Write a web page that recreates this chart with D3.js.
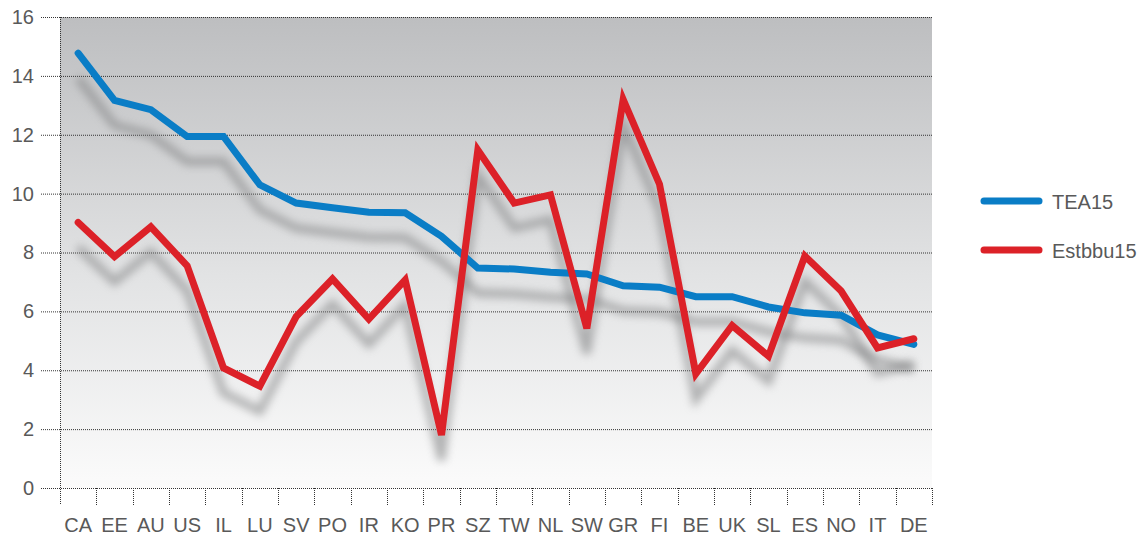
<!DOCTYPE html>
<html>
<head>
<meta charset="utf-8">
<script src="https://cdn.jsdelivr.net/npm/d3@7"></script>
<style>
	body { margin: 0; background: #fff; }
	svg { display: block; font-family: "Liberation Sans", Arial, sans-serif; }
</style>
</head>
<body>
<div id="chart"></div>
<script>
var countries = ["CA", "EE", "AU", "US", "IL", "LU", "SV", "PO", "IR", "KO", "PR", "SZ", "TW", "NL", "SW", "GR", "FI", "BE", "UK", "SL", "ES", "NO", "IT", "DE"]
var tea15 = [14.77, 13.17, 12.85, 11.94, 11.94, 10.3, 9.68, 9.52, 9.37, 9.35, 8.55, 7.47, 7.44, 7.33, 7.27, 6.87, 6.82, 6.5, 6.5, 6.15, 5.95, 5.87, 5.2, 4.88]
var estbbu15 = [9.02, 7.86, 8.87, 7.55, 4.08, 3.46, 5.82, 7.1, 5.74, 7.07, 1.8, 11.48, 9.68, 9.96, 5.42, 13.2, 10.32, 3.88, 5.52, 4.48, 7.88, 6.69, 4.76, 5.07]
var yTicks = [0, 2, 4, 6, 8, 10, 12, 14, 16]
var seriesNames = ["TEA15", "Estbbu15"]
var seriesColors = ["#0a7dc6", "#dc2128"]

function draw() {
	var width = 1143
	var height = 535
	var pLeft = 60, pRight = 932, pTop = 17, pBottom = 488
	var textColor = "#595959"

	var svg = d3.select("#chart").append("svg")
		.attr("width", width)
		.attr("height", height)

	var defs = svg.append("defs")
	var grad = defs.append("linearGradient")
		.attr("id", "bg")
		.attr("x1", 0).attr("y1", 0).attr("x2", 0).attr("y2", 1)
	grad.append("stop").attr("offset", "0%").attr("stop-color", "#bdbec0")
	grad.append("stop").attr("offset", "55%").attr("stop-color", "#e2e3e4")
	grad.append("stop").attr("offset", "100%").attr("stop-color", "#fbfbfb")

	defs.append("filter")
		.attr("id", "blur")
		.attr("x", "-20%").attr("y", "-20%").attr("width", "140%").attr("height", "140%")
		.append("feGaussianBlur")
		.attr("stdDeviation", 4)

	var x = d3.scaleBand().domain(countries).range([pLeft, pRight]).padding(0)
	var y = d3.scaleLinear().domain([0, 16]).range([pBottom, pTop])

	// plot background
	svg.append("rect")
		.attr("x", pLeft)
		.attr("y", pTop)
		.attr("width", pRight - pLeft)
		.attr("height", pBottom - pTop)
		.style("fill", "url(#bg)")

	// y axis + gridlines
	var yAxis = svg.append("g")
		.attr("transform", "translate(" + pRight + ",0)")
		.call(d3.axisLeft(y).tickValues(yTicks).tickSize(pRight - 40).tickPadding(6).tickFormat(d3.format("d")))
	yAxis.select(".domain").remove()
	yAxis.selectAll("line")
		.style("stroke", "#333")
		.style("stroke-width", 1)
		.style("stroke-dasharray", "1,1")
	yAxis.selectAll("text")
		.style("font-size", "20px")
		.style("fill", textColor)
		.style("font-family", "'Liberation Sans', Arial, sans-serif")

	// left vertical dotted line
	svg.append("line")
		.attr("x1", pLeft + 0.5).attr("x2", pLeft + 0.5)
		.attr("y1", pTop).attr("y2", pBottom + 17)
		.style("stroke", "#333")
		.style("stroke-dasharray", "1,1")

	// x boundary ticks
	var bounds = countries.map(function (c) { return x(c) }).concat([pRight])
	svg.selectAll(".xtick")
		.data(bounds.slice(1))
		.enter().append("line")
		.attr("class", "xtick")
		.attr("x1", function (d) { return Math.round(d) + 0.5 })
		.attr("x2", function (d) { return Math.round(d) + 0.5 })
		.attr("y1", pBottom)
		.attr("y2", pBottom + 17)
		.style("stroke", "#333")
		.style("stroke-dasharray", "1,1")

	// x labels
	svg.selectAll(".xlab")
		.data(countries)
		.enter().append("text")
		.attr("class", "xlab")
		.attr("x", function (d) { return x(d) + x.bandwidth() / 2 })
		.attr("y", 532)
		.attr("text-anchor", "middle")
		.style("font-size", "20px")
		.style("fill", textColor)
		.text(function (d) { return d })

	var line = d3.line()
		.x(function (d, i) { return x(countries[i]) + x.bandwidth() / 2 })
		.y(function (d) { return y(d) })

	var allSeries = [tea15, estbbu15]

	// shadows
	svg.append("g")
		.attr("transform", "translate(0,25)")
		.selectAll("path")
		.data(allSeries)
		.enter().append("path")
		.attr("d", line)
		.style("fill", "none")
		.style("stroke", "#7a7b7d")
		.style("stroke-width", 8)
		.style("opacity", 0.55)
		.attr("filter", "url(#blur)")

	// lines
	svg.append("g")
		.selectAll("path")
		.data(allSeries)
		.enter().append("path")
		.attr("d", line)
		.style("fill", "none")
		.style("stroke", function (d, i) { return seriesColors[i] })
		.style("stroke-width", 7)
		.style("stroke-linecap", "round")
		.style("stroke-linejoin", "miter")

	// legend
	var legendY = [201, 250]
	var legend = svg.append("g")
	legend.selectAll(".lshadow")
		.data(seriesNames)
		.enter().append("line")
		.attr("class", "lshadow")
		.attr("x1", 984).attr("x2", 1039)
		.attr("y1", function (d, i) { return legendY[i] + 25 })
		.attr("y2", function (d, i) { return legendY[i] + 25 })
		.style("stroke", "#7a7b7d")
		.style("stroke-width", 8)
		.style("opacity", 0.55)
		.attr("filter", "url(#blur)")
	legend.selectAll(".lline")
		.data(seriesNames)
		.enter().append("line")
		.attr("class", "lline")
		.attr("x1", 984).attr("x2", 1039)
		.attr("y1", function (d, i) { return legendY[i] })
		.attr("y2", function (d, i) { return legendY[i] })
		.style("stroke", function (d, i) { return seriesColors[i] })
		.style("stroke-width", 7)
		.style("stroke-linecap", "round")
	legend.selectAll(".ltext")
		.data(seriesNames)
		.enter().append("text")
		.attr("class", "ltext")
		.attr("x", 1052)
		.attr("y", function (d, i) { return legendY[i] + 8 })
		.style("font-size", "20px")
		.style("fill", textColor)
		.text(function (d) { return d })
}

draw()
</script>
</body>
</html>
